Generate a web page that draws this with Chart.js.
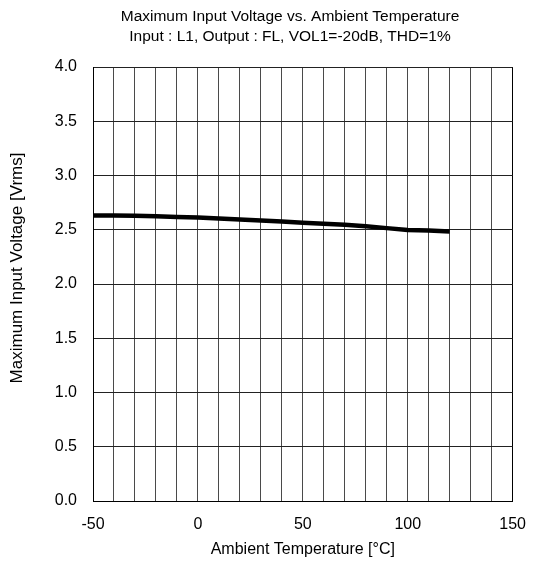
<!DOCTYPE html>
<html>
<head>
<meta charset="utf-8">
<script src="https://cdn.jsdelivr.net/npm/chart.js@4"></script>
<style>
  html, body { margin: 0; padding: 0; background: #fff; }
  #c { display: block; }
</style>
</head>
<body>
<canvas id="c" width="540" height="562"></canvas>
<script>
// ---- data ----
const titleLines = ['Maximum Input Voltage vs. Ambient Temperature', 'Input : L1, Output : FL, VOL1=-20dB, THD=1%'];
const xTitle = 'Ambient Temperature [°C]';
const yTitle = 'Maximum Input Voltage [Vrms]';
const temperatures = [-50, -40, -30, -20, -10, 0, 10, 20, 30, 40, 50, 60, 70, 80, 90, 100, 110, 120];
const maxInputVoltage = [2.632, 2.632, 2.630, 2.625, 2.618, 2.612, 2.603, 2.595, 2.585, 2.575, 2.565, 2.555, 2.545, 2.533, 2.515, 2.498, 2.492, 2.485];
const xTickLabels = [-50, 0, 50, 100, 150];
const yTickLabels = [0, 0.5, 1.0, 1.5, 2.0, 2.5, 3.0, 3.5, 4.0];

const FONT = "'Liberation Sans', Arial, sans-serif";

const textPlugin = {
  id: 'textPlugin',
  afterDraw(chart) {
    const ctx = chart.ctx;
    ctx.save();
    ctx.fillStyle = '#000';
    ctx.font = '15.5px ' + FONT;
    ctx.textAlign = 'center';
    ctx.textBaseline = 'alphabetic';
    ctx.fillText(titleLines[0], 290, 20.5);
    ctx.fillText(titleLines[1], 290, 40.5);
    ctx.translate(17, 268);
    ctx.rotate(-Math.PI / 2);
    ctx.font = '17px ' + FONT;
    ctx.textBaseline = 'middle';
    ctx.fillText(yTitle, 0, 0);
    ctx.restore();
  }
};

new Chart(document.getElementById('c'), {
  type: 'line',
  data: {
    datasets: [{
      data: temperatures.map((t, i) => ({ x: t, y: maxInputVoltage[i] })),
      borderColor: '#000',
      borderWidth: 4.5,
      pointRadius: 0,
      tension: 0,
      fill: false
    }]
  },
  options: {
    responsive: false,
    animation: false,
    devicePixelRatio: 1,
    layout: { padding: { top: 67, right: 15, bottom: 0, left: 0 } },
    plugins: { legend: { display: false }, tooltip: { enabled: false }, title: { display: false } },
    scales: {
      x: {
        type: 'linear',
        min: -50, max: 150,
        afterFit(s) { s.height = 61; },
        afterBuildTicks(s) {
          const arr = [];
          for (let v = -50; v <= 150; v += 10) arr.push({ value: v });
          s.ticks = arr;
        },
        ticks: {
          autoSkip: false, maxRotation: 0, padding: 14, color: '#000',
          font: { family: FONT, size: 16 },
          callback: v => xTickLabels.includes(v) ? String(v) : ''
        },
        grid: {
          drawTicks: false,
          color: ctx => (ctx.tick && (ctx.tick.value === -50 || ctx.tick.value === 150)) ? '#000' : '#4a4a4a',
          lineWidth: 1
        },
        border: { display: true, color: '#000', width: 1 },
        title: { display: true, text: xTitle, color: '#000', font: { family: FONT, size: 16 }, padding: { top: 0, bottom: 3 } }
      },
      y: {
        min: 0, max: 4,
        afterFit(s) { s.width = 93; },
        afterBuildTicks(s) { s.ticks = yTickLabels.map(v => ({ value: v })); },
        ticks: {
          padding: 16, color: '#000',
          font: { family: FONT, size: 16 },
          callback: v => Number(v).toFixed(1)
        },
        grid: { drawTicks: false, color: '#222', lineWidth: 1 },
        border: { display: true, color: '#000', width: 1 }
      }
    }
  },
  plugins: [textPlugin]
});
</script>
</body>
</html>
